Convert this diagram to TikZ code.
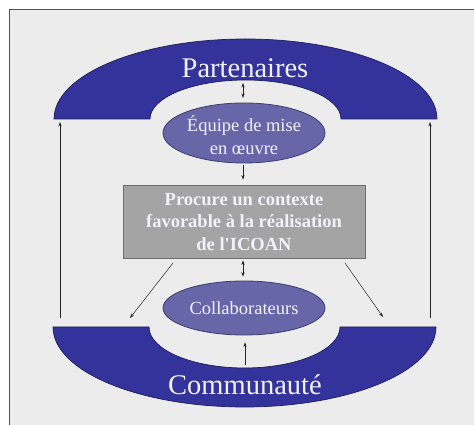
\documentclass[tikz,border=0pt]{standalone}
\usepackage{fontspec}
\setmainfont{Liberation Serif}
\newfontfamily\plainserif[Ligatures=TeXOff]{Liberation Serif}
\usetikzlibrary{shapes.geometric,arrows.meta}
\definecolor{bandblue}{RGB}{51,51,155}
\definecolor{bandedge}{RGB}{30,30,90}
\definecolor{ellfill}{RGB}{102,102,168}
\definecolor{elledge}{RGB}{60,60,110}
\definecolor{boxfill}{RGB}{164,164,164}
\definecolor{boxedge}{RGB}{110,110,110}
\definecolor{bg}{RGB}{236,236,236}
\definecolor{framec}{RGB}{80,80,80}
\definecolor{lightx}{RGB}{242,242,250}
\tikzset{
  band/.style={fill=bandblue,draw=bandedge,line width=0.7pt},
  oval/.style={ellipse,fill=ellfill,draw=elledge,line width=0.8pt,inner sep=0pt,minimum width=162pt},
  txt/.style={text=lightx,align=center,font=\fontsize{18.5}{22.5}\selectfont},
  bigtxt/.style={text=lightx,font=\fontsize{28.5}{32}\selectfont},
  conn/.style={draw=black!85,line width=0.5pt,-{Stealth[length=4.5pt,width=3.2pt]}},
  dconn/.style={draw=black!85,line width=0.5pt,{Stealth[length=4.5pt,width=3.2pt]}-{Stealth[length=4.5pt,width=3.2pt]}}
}
\begin{document}
\begin{tikzpicture}[x=1pt,y=1pt]
\useasboundingbox (0,0) rectangle (474,425);
\fill[white] (0,0) rectangle (474,425);
\filldraw[fill=bg,draw=framec,line width=1pt] (9,-10) rectangle (490,415);
% top band
\path[band] (54,306) arc[start angle=180,end angle=0,x radius=191.5pt,y radius=80pt]
  -- (341,306) arc[start angle=0,end angle=180,x radius=95.5pt,y radius=39pt] -- cycle;
% bottom band
\path[band] (53,98) arc[start angle=180,end angle=360,x radius=191.5pt,y radius=80pt]
  -- (340,98) arc[start angle=360,end angle=180,x radius=95.5pt,y radius=41pt] -- cycle;
\node[bigtxt] (part) at (245,357) {Partenaires};
\node[bigtxt] (comm) at (245,40) {Communauté};
% ellipses
\node[oval,minimum height=60pt] (eq) at (244,292) {};
\node[txt] (eqt) at (244,290) {Équipe de mise\\en œuvre};
\node[oval,minimum height=54pt] (coll) at (244,117) {};
\node[txt] (collt) at (244,117) {Collaborateurs};
% box
\node[fill=boxfill,draw=boxedge,line width=0.8pt,minimum width=242pt,minimum height=73pt,inner sep=0pt] (box) at (244,203.5) {};
\node[txt,font=\plainserif\fontsize{18.5}{22.5}\selectfont\bfseries] (boxt) at (244,203) {Procure un contexte\\favorable à la réalisation\\de l'ICOAN};
% connector ends
\coordinate (pin) at (243,342);
\coordinate (dl0) at (173,162);
\coordinate (dl1) at (130,107);
\coordinate (dr0) at (345,162);
\coordinate (dr1) at (383,108);
\coordinate (sl0) at (60,107);
\coordinate (sl1) at (60,303);
\coordinate (sr0) at (430,107);
\coordinate (sr1) at (430,303);
\coordinate (cin) at (245,60);
% connectors
\draw[dconn] (pin) -- (243,327);
\draw[conn,shorten <=2pt,shorten >=5pt] (eq.south -| 243,0) -- (box.north -| 243,0);
\draw[dconn,shorten <=2pt,shorten >=4pt] (box.south -| 243,0) -- (coll.north -| 243,0);
\draw[conn] (dl0) -- (dl1);
\draw[conn] (dr0) -- (dr1);
\draw[conn] (sl0) -- (sl1);
\draw[conn] (sr0) -- (sr1);
\draw[conn,shorten >=7pt] (cin) -- (coll.south -| 245,0);
\end{tikzpicture}
\end{document}
